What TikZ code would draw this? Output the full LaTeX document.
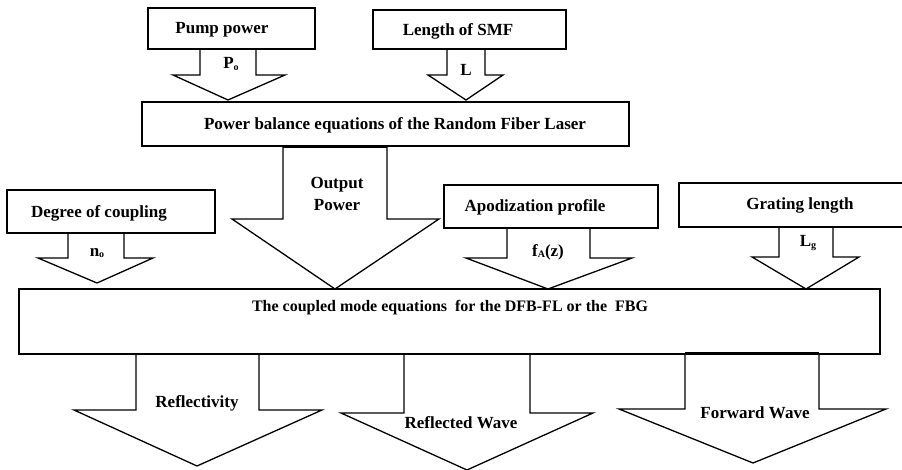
\documentclass[tikz,border=0pt]{standalone}
\usepackage{fontspec}
\setmainfont{Liberation Serif}
\begin{document}
\begin{tikzpicture}[x=1pt,y=-1pt,
  box/.style={draw,line width=1.3pt,inner sep=0pt},
  arr/.style={draw,line width=1.3pt,line join=miter},
  txt/.style={font=\fontsize{17}{19}\selectfont\bfseries,inner sep=0pt},
  small/.style={font=\fontsize{17}{22}\selectfont\bfseries,inner sep=0pt,align=center}]
\useasboundingbox (0,0) rectangle (902,470);
\newcommand{\barrow}[8]{\draw[arr] (#1,#3) -- (#1,#4) -- (#5,#4) -- (#7,#8) -- (#6,#4) -- (#2,#4) -- (#2,#3);}
% boxes
\node[box,minimum width=167pt,minimum height=41pt] (pump) at (231.5,28.5) {};
\node[txt] (pumpt) at (222,30) {Pump power};
\node[box,minimum width=193pt,minimum height=39pt] (smf) at (469.5,29.5) {};
\node[txt] (smft) at (458,31) {Length of SMF};
\node[box,minimum width=487pt,minimum height=44pt] (pbe) at (385.5,124) {};
\node[txt] (pbet) at (395,125) {Power balance equations of the Random Fiber Laser};
\node[box,minimum width=208pt,minimum height=43pt] (doc) at (111,211.5) {};
\node[txt] (doct) at (99,213) {Degree of coupling};
\node[box,minimum width=214pt,minimum height=43pt] (apo) at (551,206.5) {};
\node[txt] (apot) at (535,207) {Apodization profile};
\draw[arr] (902,183) -- (679,183) -- (679,227) -- (902,227);
\node[txt] (grat) at (800,205) {Grating length};
\node[box,minimum width=861pt,minimum height=65pt] (cme) at (449.5,321.5) {};
\node[font=\fontsize{16}{18}\selectfont\bfseries,inner sep=0pt] (cmet) at (450,308) {The coupled mode equations\ \ for the DFB-FL or the\ \ FBG};
% arrows top
\barrow{200}{256}{49}{75}{173}{285}{228}{100}
\node[small] (po) at (231,64) {P\raisebox{-2pt}{\fontsize{10}{10}\selectfont o}};
\barrow{447}{485}{49}{75}{428}{503}{466}{100}
\node[small] (l) at (466,70) {L};
\barrow{283}{387}{146}{219}{232}{439}{335}{289}
\draw[line width=3pt] (283,146.5) -- (387,146.5);
\node[small] (op) at (337,194) {Output\\Power};
\barrow{68}{124}{233}{258}{38}{153}{97}{283}
\node[small] (no) at (97,253) {n\raisebox{-1pt}{\fontsize{10}{10}\selectfont o}};
\barrow{507}{590}{228}{258}{466}{632}{548}{289}
\node[small] (fa) at (548,252) {f\raisebox{-1pt}{\fontsize{10}{10}\selectfont A}(z)};
\barrow{779}{833}{227}{257}{752}{859}{806}{289}
\node[small] (lg) at (808,243) {L\raisebox{-2pt}{\fontsize{10}{10}\selectfont g}};
% arrows bottom
\barrow{136}{259}{354}{410}{74}{322}{197}{466}
\node[small] (refl) at (197,403) {Reflectivity};
\barrow{404}{530}{354}{413}{341}{593}{467}{470}
\node[small] (rw) at (461,423) {Reflected Wave};
\barrow{685}{819}{353}{409}{619}{886}{753}{463}
\draw[line width=3pt] (685,353.5) -- (819,353.5);
\node[small] (fw) at (755,413) {Forward Wave};
\end{tikzpicture}
\end{document}
